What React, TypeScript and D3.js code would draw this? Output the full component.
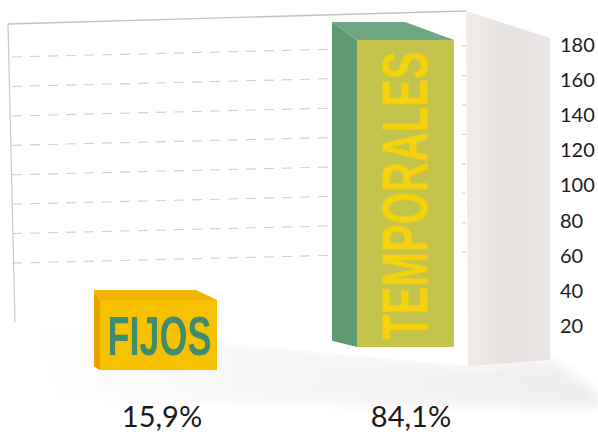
import React from "react";
import * as d3 from "d3";

const categories = ["FIJOS", "TEMPORALES"];
const counts = [34, 180];
const percentLabels = ["15,9%", "84,1%"];
const tickValues = [20, 40, 60, 80, 100, 120, 140, 160, 180];
const gridValues = [40, 60, 80, 100, 120, 140, 160, 180];

const W = 598;
const H = 436;

// axis label scale (right side)
const yAxis = d3.scaleLinear().domain([0, 180]).range([361, 45]);
// grid scale on the back wall (slightly compressed by perspective)
const yGrid = d3.scaleLinear().domain([0, 180]).range([322, 57]);
// front face height per unit for the far bar
const k = 307 / 180;

// per bar placement in pseudo 3d
const bars = [
  { x0: 100, x1: 217, base: 370, scale: 1.207, depthX: -6, depthY: -10, backCut: -15,
    front: "#f6c200", sideFill: "#e9a200", top: "#f1b500", text: "#3f8c6e" },
  { x0: 357, x1: 454, base: 347, scale: 1, depthX: -25, depthY: -18, backCut: -24,
    front: "#c4c44c", sideFill: "#5f9a72", top: "#6fa782", text: "#f7d30a" },
];

export default function App() {
  const seg = d3.line<[number, number]>();
  return (
    <svg width={W} height={H} style={{ position: "absolute", left: 0, top: 0, background: "#fff" }}
      fontFamily="Lato, 'Open Sans', sans-serif">
      <defs>
        <linearGradient id="wallR" x1="0" x2="1" y1="0" y2="0">
          <stop offset="0" stopColor="#efecea" />
          <stop offset="0.5" stopColor="#e6e2e0" />
          <stop offset="1" stopColor="#eae7e6" />
        </linearGradient>
        <linearGradient id="floor" x1="0" x2="1" y1="0" y2="0">
          <stop offset="0" stopColor="#ffffff" />
          <stop offset="0.45" stopColor="#f6f5f5" />
          <stop offset="1" stopColor="#efeded" />
        </linearGradient>
        <linearGradient id="fade" x1="0" x2="0" y1="0" y2="1">
          <stop offset="0" stopColor="#fff" stopOpacity="0" />
          <stop offset="1" stopColor="#fff" stopOpacity="1" />
        </linearGradient>
        <filter id="soft"><feGaussianBlur stdDeviation="0.6" /></filter>
        <filter id="blur"><feGaussianBlur stdDeviation="6" /></filter>
      </defs>

      {/* floor */}
      <g filter="url(#blur)">
        <polygon points="14,322 468,366 552,360 598,392 598,408 60,400" fill="url(#floor)" />
      </g>

      {/* back wall */}
      <polygon points="8,24 466,11 468,366 15,322" fill="#ffffff" />
      <path d={seg([[8, 24], [466, 11]]) || ""} stroke="#c9bfbd" strokeWidth={1.3} fill="none" />
      <path d={seg([[8, 24], [15, 322]]) || ""} stroke="#cfc6c4" strokeWidth={1.2} fill="none" />
      {gridValues.map((v) => {
        const yl = yGrid(v);
        return (
          <path key={v} d={seg([[12, yl], [466, yl - 11]]) || ""}
            stroke="#d6cecc" strokeWidth={1.1} strokeDasharray="10,8" fill="none" />
        );
      })}

      {/* right side wall */}
      <polygon points="466,11 550,38 550,360 468,366" fill="url(#wallR)" />

      {/* bars */}
      {categories.map((c, i) => {
        const b = bars[i];
        const h = counts[i] * k * b.scale;
        const yt = b.base - h;
        const dx = b.depthX;
        const dy = b.depthY;
        const topPts = [
          [b.x0, yt], [b.x0 + dx, yt + dy], [b.x1 + dx + b.backCut, yt + dy], [b.x1, yt],
        ];
        const sidePts = [
          [b.x0, yt], [b.x0 + dx, yt + dy], [b.x0 + dx, b.base + dy * 0.35], [b.x0, b.base],
        ];
        const cx = (b.x0 + b.x1) / 2;
        const cy = (yt + b.base) / 2;
        return (
          <g key={c}>
            <polygon points={sidePts.map((p) => p.join(",")).join(" ")} fill={b.sideFill} />
            <polygon points={topPts.map((p) => p.join(",")).join(" ")} fill={b.top} />
            <rect x={b.x0} y={yt} width={b.x1 - b.x0} height={h} fill={b.front} />
            {i === 0 ? (
              <text x={cx + 1} y={cy + 20} textAnchor="middle" fontFamily="'Liberation Sans Narrow', 'Liberation Sans', sans-serif"
                fontWeight="bold" fontSize={56} fill={b.text} textLength={104} lengthAdjust="spacingAndGlyphs"
                filter="url(#soft)">
                {c}
              </text>
            ) : (
              <text transform={`translate(${cx + 22},${cy + 2}) rotate(-90)`} textAnchor="middle"
                fontFamily="'Liberation Sans Narrow', 'Liberation Sans', sans-serif" fontWeight="bold"
                fontSize={64} fill={b.text} textLength={288} lengthAdjust="spacingAndGlyphs" filter="url(#soft)">
                {c}
              </text>
            )}
            <text x={i === 0 ? 162 : 411} y={427} textAnchor="middle" fontSize={29} fill="#1a1a1a">
              {percentLabels[i]}
            </text>
          </g>
        );
      })}

      {/* axis labels */}
      {tickValues.map((v) => (
        <text key={v} x={560} y={yAxis(v) + 7} fontSize={20} fill="#1a1a1a">
          {v}
        </text>
      ))}
    </svg>
  );
}
